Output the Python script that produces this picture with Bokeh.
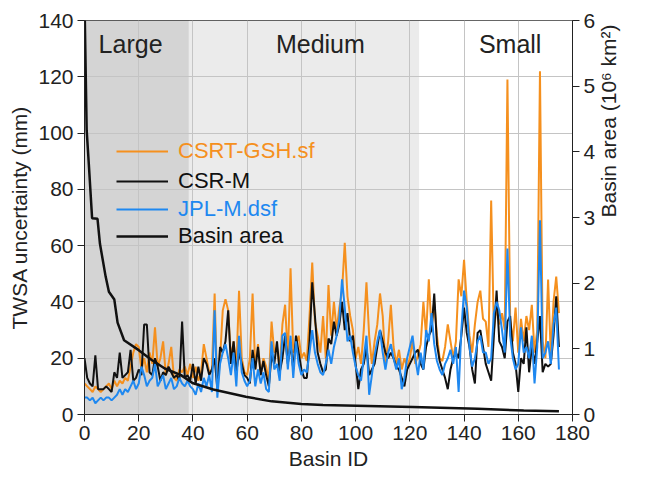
import math
from bokeh.plotting import figure
from bokeh.models import Range1d, LinearAxis, Legend, LegendItem, Label
from bokeh.embed import file_html
from bokeh.resources import INLINE

# basin index on the x axis
basin_id = list(range(176))

# TWSA uncertainty (mm)
csrt_gsh = [11, 10, 9, 8, 10, 9, 8, 9, 10, 11,
            9, 12, 10, 12, 11, 13, 12, 17, 22, 25,
            24, 16, 20, 15, 22, 18, 31, 17, 20, 26,
            14, 18, 24, 13, 12, 16, 15, 17, 14, 18,
            13, 17, 12, 15, 25, 20, 15, 16, 43, 8,
            20, 37, 41, 37, 20, 26, 16, 44, 20, 15,
            14, 20, 43, 16, 25, 14, 20, 17, 12, 33,
            22, 24, 16, 32, 39, 20, 52, 22, 25, 28,
            20, 22, 19, 35, 54, 33, 28, 22, 35, 20,
            46, 28, 40, 30, 38, 44, 61, 42, 35, 30,
            20, 24, 18, 30, 47, 28, 18, 26, 32, 43,
            35, 18, 26, 39, 24, 18, 23, 16, 20, 17,
            20, 26, 18, 21, 25, 40, 28, 48, 30, 40,
            28, 20, 19, 24, 32, 26, 20, 26, 48, 42,
            55, 40, 28, 22, 32, 40, 44, 34, 33, 24,
            76, 30, 38, 32, 36, 30, 119, 34, 26, 38,
            22, 34, 26, 35, 30, 39, 22, 30, 122, 26,
            20, 48, 21, 40, 49, 36]

csr_m = [20, 13, 11, 10, 21, 9, 9, 9, 10, 9,
         8, 15, 13, 22, 13, 14, 15, 23, 12, 13,
         16, 14, 32, 32, 15, 14, 20, 17, 12, 15,
         14, 17, 15, 13, 14, 12, 33, 13, 14, 12,
         18, 11, 17, 12, 20, 18, 14, 16, 20, 9,
         24, 22, 26, 37, 18, 26, 15, 22, 18, 14,
         13, 11, 23, 16, 24, 14, 19, 14, 10, 21,
         18, 26, 15, 20, 28, 18, 25, 16, 28, 22,
         16, 13, 13, 26, 47, 35, 22, 18, 15, 16,
         27, 25, 33, 28, 32, 40, 30, 36, 26, 28,
         18, 9, 16, 18, 24, 14, 16, 18, 24, 30,
         26, 22, 20, 22, 20, 17, 16, 13, 10, 16,
         18, 20, 22, 23, 18, 16, 24, 28, 30, 43,
         25, 19, 16, 13, 9, 16, 20, 22, 20, 28,
         38, 29, 24, 16, 11, 29, 30, 24, 18, 15,
         12, 28, 44, 26, 24, 20, 33, 35, 22, 18,
         8, 20, 18, 31, 15, 24, 18, 26, 35, 15,
         18, 17, 18, 28, 42, 24]

jpl_m = [6, 6, 5, 6, 4, 5, 6, 5, 6, 6,
         5, 6, 7, 9, 7, 9, 8, 10, 12, 9,
         11, 17, 14, 10, 12, 13, 18, 10, 12, 14,
         9, 11, 13, 9, 10, 13, 11, 10, 12, 10,
         9, 7, 11, 8, 13, 10, 14, 8, 37, 6,
         18, 22, 25, 20, 14, 22, 10, 28, 15, 12,
         10, 12, 20, 10, 16, 11, 15, 9, 8, 26,
         16, 18, 12, 28, 29, 16, 28, 13, 26, 18,
         14, 16, 15, 22, 30, 22, 18, 15, 14, 18,
         23, 18, 24, 28, 34, 48, 38, 26, 28, 22,
         17, 14, 12, 20, 28, 7, 14, 21, 26, 30,
         22, 16, 22, 25, 20, 16, 20, 9, 13, 20,
         24, 28, 20, 14, 22, 16, 30, 26, 36, 25,
         19, 16, 14, 18, 20, 23, 18, 24, 8, 30,
         44, 38, 24, 17, 20, 26, 28, 22, 22, 18,
         20, 36, 40, 37, 30, 22, 59, 28, 20, 16,
         18, 31, 22, 24, 20, 28, 11, 24, 69, 20,
         22, 26, 18, 32, 38, 16]

# basin area (10^6 km2), read at a few basin IDs
area_id = [0, 0.8, 1.6, 2.8, 4.8, 5.7, 7.8, 9, 11, 12.2, 14.6, 20, 24.8,
           29.6, 35.6, 39.8, 47.5, 59.5, 69, 80, 88, 121, 145, 162, 175]
basin_area = [6.3, 4.33, 3.81, 2.99, 2.98, 2.6, 2.1, 1.87, 1.75, 1.40, 1.13,
              0.98, 0.83, 0.70, 0.60, 0.48, 0.38, 0.27, 0.20, 0.16, 0.146,
              0.116, 0.086, 0.06, 0.051]

# size classes
region_names = ["Large", "Medium", "Small"]
region_start = [0, 38.5, 123.5]
region_end = [38.5, 123.5, 180]

region_colors = ["#d4d4d4", "#ebebeb", "#ffffff"]
label_x = [17, 87, 157]
FONT = "Liberation Sans"
ORANGE = "#f5901e"
BLUE = "#1e88f0"

p = figure(width=634, height=480, x_range=Range1d(0, 180), y_range=Range1d(0, 140),
           output_backend="svg", toolbar_location=None,
           min_border_left=84, min_border_right=52, min_border_top=20, min_border_bottom=66,
           x_axis_label="Basin ID", y_axis_label="TWSA uncertainty (mm)")
p.extra_y_ranges = {"area": Range1d(0, 6)}

p.quad(left=region_start, right=region_end, bottom=0, top=140,
       color=region_colors, line_color=None, level="image")

r_csrt = p.line(basin_id, csrt_gsh, line_color=ORANGE, line_width=2)
r_csr = p.line(basin_id, csr_m, line_color="#111111", line_width=2)
r_jpl = p.line(basin_id, jpl_m, line_color=BLUE, line_width=2)
r_area = p.line(area_id, basin_area, line_color="#111111", line_width=2.5, y_range_name="area")

ax_r = LinearAxis(y_range_name="area", axis_label="Basin area (10\u2076 km\u00b2)")
p.add_layout(ax_r, "right")

p.xaxis.ticker = list(range(0, 181, 20))
p.yaxis[0].ticker = list(range(0, 141, 20))
ax_r.ticker = list(range(0, 7))

for ax in p.xaxis + p.yaxis:
    ax.axis_line_color = "#222222"
    ax.major_tick_line_color = "#222222"
    ax.major_tick_in = 0
    ax.major_tick_out = 7
    ax.minor_tick_in = 0
    ax.minor_tick_out = 0
    ax.major_label_text_font = FONT
    ax.major_label_text_font_size = "21px"
    ax.major_label_text_color = "#222222"
    ax.major_label_standoff = 4
    ax.axis_label_text_font = FONT
    ax.axis_label_text_font_size = "21px"
    ax.axis_label_text_font_style = "normal"
    ax.axis_label_text_color = "#222222"
    ax.axis_label_standoff = 4
# right axis title reads bottom to top, like the left one
ax_r.axis_label_orientation = math.pi / 2
ax_r.axis_label_text_baseline = "top"
ax_r.axis_label_standoff = 10

p.xgrid.grid_line_color = "#c4c4c4"
p.ygrid.grid_line_color = "#c4c4c4"
p.outline_line_color = "#333333"
p.background_fill_color = "white"

for name, x in zip(region_names, label_x):
    p.add_layout(Label(x=x, y=131.5, text=name, text_align="center", text_baseline="middle",
                       text_font=FONT, text_font_size="25px", text_color="#222222"))

entries = [("CSRT-GSH.sf", r_csrt, ORANGE, 250),
           ("CSR-M", r_csr, "#111111", 220),
           ("JPL-M.dsf", r_jpl, BLUE, 192),
           ("Basin area", r_area, "#111111", 165)]
for label, rend, col, ypos in entries:
    leg = Legend(items=[LegendItem(label=label, renderers=[rend])], location=(32, ypos),
                 background_fill_alpha=0, border_line_alpha=0, padding=0, margin=0,
                 glyph_width=52, glyph_height=22, label_height=22, label_standoff=10,
                 label_text_font=FONT, label_text_font_size="22px", label_text_color=col)
    p.add_layout(leg)

open("out.html", "w").write(file_html(p, INLINE))
